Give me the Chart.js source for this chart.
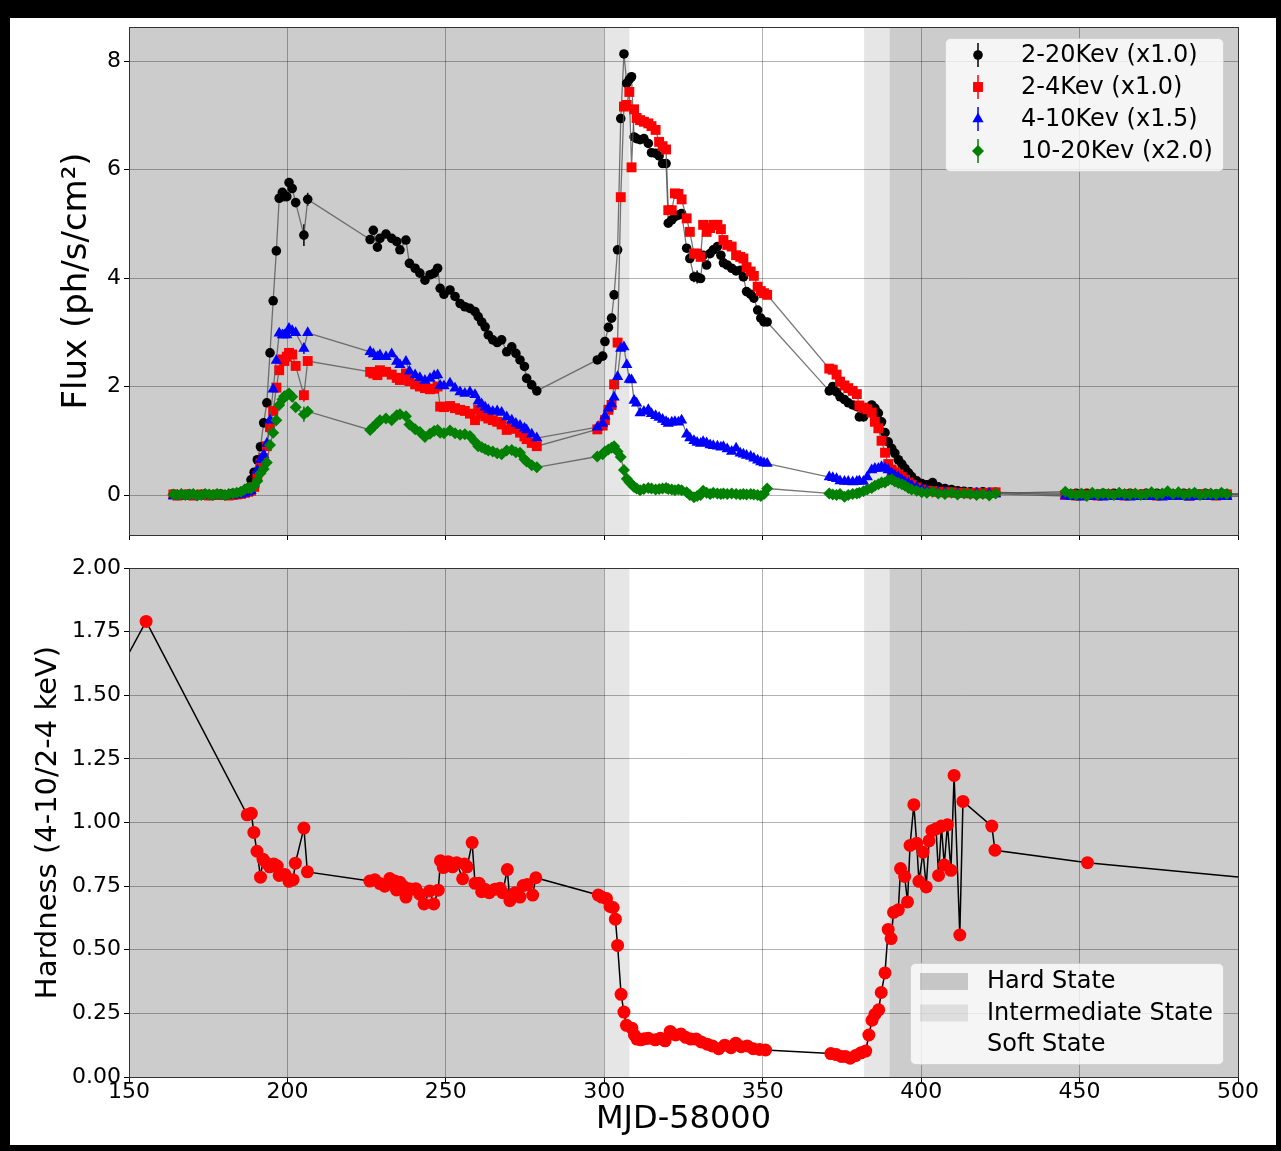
<!DOCTYPE html>
<html>
<head>
<meta charset="utf-8">
<title>Flux and hardness light curves</title>
<script src="https://cdn.jsdelivr.net/npm/chart.js@4.4.1/dist/chart.umd.min.js"></script>
<style>
  html, body { margin: 0; padding: 0; background: #fff; }
  body { width: 1281px; height: 1151px; position: relative; overflow: hidden; }
  canvas { position: absolute; left: 0; }
  #fluxChart { top: 0; }
  #hardChart { top: 540px; }
  .edge { position: absolute; background: #000; z-index: 5; }
</style>
</head>
<body>
<canvas id="fluxChart" width="1281" height="560"></canvas>
<canvas id="hardChart" width="1281" height="611"></canvas>
<div class="edge" style="left:0;top:0;width:1281px;height:18px"></div>
<div class="edge" style="left:0;top:0;width:10px;height:1151px"></div>
<div class="edge" style="left:1276px;top:0;width:5px;height:1151px"></div>
<div class="edge" style="left:0;top:1145px;width:1281px;height:6px"></div>
<script>
'use strict';

// observation times (MJD-58000), shared by the four energy bands
let mjd = [
  164.0, 165.3, 166.5, 167.8, 169.0, 170.3, 171.5, 172.8, 174.0, 175.3, 176.5, 177.8, 179.0, 180.3, 181.5, 182.8, 184.0, 185.3, 186.5, 187.6,
  188.5, 189.5, 190.5, 191.5, 192.5, 193.5, 194.5, 195.5, 196.5, 197.4, 198.4, 199.0, 199.8, 200.5, 201.5, 202.6, 205.2, 206.4,
  226.1, 227.1, 228.4, 229.2, 231.1, 232.9, 234.5, 235.5, 237.4, 238.5, 240.3, 241.8, 243.4, 245.0, 246.3, 247.4, 248.2, 249.4, 251.3, 252.9,
  254.5, 256.0, 257.6, 259.2, 260.2, 261.3, 262.4, 263.4, 264.8, 266.2, 267.6, 269.2, 270.8, 272.1, 273.4, 274.8, 275.5, 277.1, 278.7,
  297.8, 299.5, 300.2, 301.3, 302.3, 303.1, 304.2, 305.2, 306.2, 307.1, 307.9, 308.6, 309.4, 310.2, 311.3, 312.5, 313.9, 314.9, 316.2, 317.3,
  318.4, 319.5, 320.2, 321.3, 322.3, 323.4, 324.4, 326.0, 327.0, 328.3, 329.3, 330.4, 331.2, 332.3, 333.4, 334.4, 335.7, 336.8, 337.6, 338.8,
  340.2, 341.6, 342.9, 343.9, 344.9, 346.2, 347.2, 348.4, 349.4, 350.4, 351.4,
  371.0, 372.1, 373.3, 374.4, 375.8, 377.0, 378.4, 379.7, 380.5, 381.8, 383.0, 384.4, 385.4, 386.5, 387.5, 388.6, 389.6, 390.7, 391.7, 392.8,
  393.9, 394.9, 396.0, 397.0, 398.6, 400.2, 401.8, 403.6, 405.4, 407.5, 409.6, 411.5, 413.5, 415.5, 417.5, 419.5, 421.5, 423.5,
  445.5, 447.2, 448.9, 450.6, 452.3, 454.0, 455.7, 457.4, 459.1, 460.8, 462.5, 464.2, 465.9, 467.6, 469.3, 471.0, 472.7, 474.4, 476.1, 477.8,
  479.5, 481.2, 482.9, 484.6, 486.3, 488.0, 489.7, 491.4, 493.1, 494.8, 496.5, 506.0
];

let flux2to20 = [
  0.02, 0.00, 0.01, 0.00, 0.02, 0.01, -0.01, 0.00, 0.02, 0.01, 0.00, 0.01, 0.02, 0.00, 0.01, 0.03, 0.02, 0.05, 0.08, 0.13,
  0.28, 0.42, 0.65, 0.89, 1.33, 1.70, 2.62, 3.58, 4.50, 5.47, 5.58, 5.50, 5.50, 5.76, 5.65, 5.39, 4.79, 5.45,
  4.71, 4.88, 4.57, 4.73, 4.81, 4.73, 4.67, 4.52, 4.70, 4.27, 4.18, 4.09, 3.96, 4.06, 4.09, 4.18, 3.81, 3.70, 3.78, 3.66,
  3.53, 3.47, 3.44, 3.38, 3.29, 3.19, 3.10, 2.95, 2.86, 2.81, 2.86, 2.64, 2.73, 2.61, 2.49, 2.37, 2.15, 2.03, 1.92,
  2.49, 2.56, 2.83, 3.09, 3.26, 3.69, 4.52, 6.94, 8.13, 7.59, 7.66, 7.71, 6.60, 6.57, 6.55, 6.57, 6.48, 6.31, 6.30, 6.25,
  6.11, 6.11, 5.01, 5.07, 5.13, 5.16, 5.19, 4.55, 4.36, 4.02, 4.02, 3.99, 4.42, 4.24, 4.45, 4.52, 4.58, 4.42, 4.28, 4.24,
  4.18, 4.13, 4.14, 4.02, 3.75, 3.70, 3.63, 3.41, 3.26, 3.19, 3.19,
  1.92, 2.00, 1.90, 1.81, 1.76, 1.70, 1.66, 1.63, 1.44, 1.44, 1.60, 1.66, 1.60, 1.51, 1.35, 1.15, 0.98, 0.86, 0.77, 0.65,
  0.57, 0.49, 0.41, 0.34, 0.26, 0.21, 0.19, 0.23, 0.15, 0.12, 0.10, 0.08, 0.07, 0.06, 0.05, 0.06, 0.05, 0.05,
  0.03, 0.02, 0.03, 0.02, 0.03, 0.02, 0.02, 0.03, 0.02, 0.03, 0.02, 0.02, 0.03, 0.02, 0.02, 0.03, 0.02, 0.03, 0.02, 0.03,
  0.02, 0.02, 0.03, 0.02, 0.03, 0.02, 0.03, 0.02, 0.02, 0.03, 0.02, 0.02
];

let flux2to4 = [
  0.01, -0.01, 0.00, 0.01, 0.00, -0.01, 0.00, 0.01, 0.00, -0.01, 0.00, 0.01, 0.00, 0.00, -0.01, 0.00, 0.01, 0.02, 0.04, 0.06,
  0.08, 0.15, 0.35, 0.58, 0.68, 0.90, 1.25, 1.55, 1.98, 2.30, 2.50, 2.47, 2.55, 2.62, 2.59, 2.38, 1.84, 2.47,
  2.27, 2.24, 2.21, 2.30, 2.27, 2.22, 2.16, 2.12, 2.24, 2.10, 2.04, 2.00, 1.97, 1.95, 1.96, 2.00, 1.63, 1.62, 1.64, 1.60,
  1.57, 1.55, 1.50, 1.38, 1.57, 1.50, 1.45, 1.41, 1.38, 1.35, 1.30, 1.20, 1.27, 1.22, 1.15, 1.08, 1.03, 0.96, 0.90,
  1.21, 1.28, 1.38, 1.57, 1.66, 2.04, 2.81, 5.49, 7.16, 7.19, 7.43, 6.04, 7.11, 6.95, 6.91, 6.88, 6.85, 6.80, 6.73, 6.51,
  6.43, 6.37, 5.25, 5.25, 5.56, 5.55, 5.45, 5.10, 4.85, 4.45, 4.45, 4.39, 4.98, 4.85, 4.92, 4.98, 4.98, 4.90, 4.70, 4.61,
  4.58, 4.42, 4.39, 4.36, 4.20, 4.12, 4.04, 3.84, 3.76, 3.72, 3.69,
  2.33, 2.31, 2.22, 2.09, 2.02, 1.97, 1.92, 1.86, 1.65, 1.61, 1.58, 1.52, 1.35, 1.23, 1.00, 0.78, 0.57, 0.47, 0.42, 0.38,
  0.33, 0.28, 0.23, 0.19, 0.14, 0.10, 0.08, 0.07, 0.06, 0.05, 0.05, 0.04, 0.04, 0.03, 0.04, 0.03, 0.04, 0.05,
  0.00, 0.01, -0.01, 0.00, 0.01, 0.00, -0.01, 0.00, 0.01, 0.00, 0.00, -0.01, 0.01, 0.00, 0.00, 0.01, 0.00, -0.01, 0.00, 0.01,
  0.00, 0.00, 0.01, -0.01, 0.00, 0.00, 0.01, 0.00, -0.01, 0.00, 0.01, 0.00
];

// 4-10 keV, already multiplied by 1.5
let flux4to10 = [
  -0.02, -0.01, 0.00, -0.02, -0.01, 0.00, -0.02, -0.01, 0.00, -0.01, -0.02, 0.00, -0.01, -0.02, 0.00, -0.01, 0.00, 0.01, 0.03, 0.05,
  0.08, 0.20, 0.45, 0.65, 0.74, 0.95, 1.38, 1.95, 2.48, 2.98, 2.95, 2.95, 2.95, 3.07, 3.03, 2.99, 2.70, 2.99,
  2.64, 2.60, 2.55, 2.58, 2.55, 2.60, 2.46, 2.40, 2.46, 2.28, 2.21, 2.16, 2.11, 2.15, 2.20, 2.21, 2.02, 2.01, 2.06, 1.97,
  1.90, 1.87, 1.90, 1.85, 1.73, 1.68, 1.62, 1.57, 1.54, 1.55, 1.52, 1.44, 1.38, 1.32, 1.28, 1.23, 1.20, 1.12, 1.05,
  1.25, 1.32, 1.45, 1.60, 1.68, 1.80, 2.18, 2.70, 2.73, 2.40, 2.13, 2.12, 1.74, 1.69, 1.51, 1.54, 1.57, 1.50, 1.46, 1.43,
  1.39, 1.35, 1.32, 1.34, 1.35, 1.34, 1.38, 1.12, 1.05, 1.00, 0.97, 0.95, 0.98, 0.96, 0.92, 0.91, 0.90, 0.88, 0.89, 0.85,
  0.80, 0.86, 0.77, 0.75, 0.73, 0.71, 0.68, 0.64, 0.61, 0.59, 0.58,
  0.33, 0.32, 0.30, 0.26, 0.25, 0.25, 0.24, 0.25, 0.26, 0.25, 0.33, 0.46, 0.49, 0.49, 0.52, 0.50, 0.46, 0.40, 0.36, 0.33,
  0.28, 0.24, 0.21, 0.18, 0.14, 0.10, 0.08, 0.06, 0.05, 0.04, 0.04, 0.03, 0.03, 0.02, 0.03, 0.02, 0.03, 0.02,
  -0.02, -0.03, -0.02, -0.04, -0.03, -0.02, -0.03, -0.04, -0.02, -0.03, -0.02, -0.03, -0.04, -0.03, -0.02, -0.03, -0.02, -0.03, -0.04, -0.02,
  -0.03, -0.02, -0.03, -0.04, -0.03, -0.02, -0.03, -0.02, -0.03, -0.02, -0.03, -0.02
];

// 10-20 keV, already multiplied by 2.0
let flux10to20 = [
  0.01, 0.00, 0.02, 0.00, 0.01, 0.02, -0.01, 0.00, 0.02, 0.01, 0.00, 0.02, 0.01, 0.00, 0.02, 0.03, 0.04, 0.06, 0.10, 0.13,
  0.12, 0.17, 0.26, 0.40, 0.48, 0.60, 0.92, 1.15, 1.38, 1.66, 1.76, 1.82, 1.84, 1.87, 1.81, 1.62, 1.49, 1.54,
  1.20, 1.26, 1.33, 1.38, 1.41, 1.38, 1.47, 1.49, 1.45, 1.30, 1.21, 1.16, 1.07, 1.13, 1.18, 1.20, 1.15, 1.14, 1.19, 1.14,
  1.11, 1.12, 1.09, 0.98, 0.90, 0.88, 0.85, 0.82, 0.80, 0.77, 0.75, 0.82, 0.83, 0.79, 0.78, 0.66, 0.62, 0.55, 0.51,
  0.71, 0.75, 0.80, 0.84, 0.87, 0.90, 0.80, 0.70, 0.46, 0.30, 0.24, 0.20, 0.15, 0.12, 0.09, 0.11, 0.13, 0.12, 0.10, 0.11,
  0.12, 0.13, 0.11, 0.10, 0.09, 0.10, 0.09, 0.05, 0.00, -0.04, -0.02, 0.00, 0.08, 0.04, 0.02, 0.04, 0.03, 0.02, 0.03, 0.02,
  0.03, 0.02, 0.01, 0.02, 0.01, 0.02, 0.01, 0.00, -0.02, 0.02, 0.12,
  0.03, 0.01, 0.00, 0.02, -0.03, 0.00, 0.02, 0.03, 0.04, 0.07, 0.10, 0.13, 0.17, 0.20, 0.23, 0.23, 0.27, 0.29, 0.25, 0.22,
  0.20, 0.17, 0.13, 0.10, 0.08, 0.05, 0.04, 0.06, 0.03, 0.02, 0.04, 0.01, 0.03, 0.02, 0.00, 0.02, -0.01, 0.03,
  0.06, 0.02, 0.00, 0.03, -0.02, 0.04, 0.01, 0.03, 0.02, 0.00, 0.04, 0.02, 0.01, 0.03, 0.00, 0.02, 0.05, 0.01, 0.03, 0.07,
  0.02, 0.05, 0.01, 0.03, 0.04, 0.00, 0.02, 0.03, 0.01, 0.04, 0.02, 0.02
];

// the few error bars that stick out past their markers: [mjd, half-length]
let err2to20 = [[205.2, 0.20], [206.4, 0.12], [328.3, 0.10], [329.3, 0.12]];
let err2to4 = [[205.2, 0.12], [329.3, 0.08]];
let err4to10 = [[205.2, 0.10]];
let err10to20 = [[205.2, 0.14], [206.4, 0.08]];

// hardness ratio (4-10 keV / 2-4 keV)
let hardMjd = [
  148.0, 155.4,
  187.3, 188.6, 189.4, 190.4, 191.5, 192.3, 193.4, 194.4, 195.7, 196.8, 197.4, 199.2, 200.5, 201.8, 202.5, 205.2, 206.3,
  226.0, 227.6, 229.2, 230.7, 232.3, 233.9, 234.4, 235.5, 236.5, 237.4, 238.3, 239.2, 240.5, 241.8, 243.1, 244.9, 246.2, 247.6,
  248.3, 249.2, 250.7, 252.1, 253.4, 255.3, 255.9, 256.7, 258.3, 259.2, 260.5, 261.3, 262.3, 263.7, 265.5, 267.1, 267.9, 269.4,
  270.2, 271.8, 273.4, 274.4, 275.7, 277.4, 278.4,
  298.1, 299.2, 300.7, 301.8, 302.8, 303.5, 304.2, 305.3, 306.2, 307.0, 308.7, 309.5, 310.3, 311.5, 312.7, 313.9, 316.1, 317.7,
  319.2, 320.8, 322.5, 324.2, 325.7, 327.3, 329.0, 330.6, 332.5, 334.1, 336.1, 338.0, 340.0, 341.5, 343.2, 345.1, 347.0, 349.0, 350.9,
  371.5, 373.2, 374.8, 376.1, 377.6, 379.3, 381.0, 382.5, 383.5, 384.5, 385.4, 386.6, 387.4, 388.6, 389.6, 390.5, 391.3, 392.8,
  393.5, 394.8, 395.7, 396.5, 397.7, 398.6, 399.3, 400.6, 401.6, 402.5, 403.4, 404.7, 405.5, 406.4, 407.3, 408.3, 409.4, 410.4,
  412.2, 413.2, 422.3, 423.3, 452.5, 530.0
];
let hardness = [
  1.62, 1.79,
  1.03, 1.036, 0.961, 0.887, 0.785, 0.856, 0.84, 0.826, 0.837, 0.829, 0.792, 0.796, 0.769, 0.775, 0.84, 0.978, 0.806,
  0.77, 0.775, 0.76, 0.75, 0.78, 0.77, 0.735, 0.765, 0.75, 0.707, 0.74, 0.738, 0.74, 0.718, 0.68, 0.731, 0.68, 0.734,
  0.85, 0.823, 0.846, 0.826, 0.842, 0.779, 0.837, 0.826, 0.921, 0.761, 0.761, 0.728, 0.738, 0.724, 0.738, 0.742, 0.724, 0.815,
  0.693, 0.724, 0.707, 0.752, 0.756, 0.715, 0.783,
  0.715, 0.707, 0.701, 0.67, 0.666, 0.62, 0.517, 0.325, 0.255, 0.203, 0.192, 0.165, 0.149, 0.146, 0.15, 0.152, 0.146, 0.152,
  0.142, 0.179, 0.165, 0.169, 0.156, 0.149, 0.149, 0.138, 0.129, 0.122, 0.111, 0.125, 0.115, 0.133, 0.119, 0.122, 0.111, 0.108, 0.106,
  0.092, 0.088, 0.081, 0.081, 0.074, 0.084, 0.095, 0.102, 0.165, 0.223, 0.246, 0.264, 0.332, 0.409, 0.58, 0.544, 0.647, 0.657,
  0.819, 0.788, 0.688, 0.91, 1.07, 0.918, 0.769, 0.883, 0.747, 0.928, 0.968, 0.975, 0.792, 0.986, 0.833, 0.991, 0.812, 1.185,
  0.558, 1.083, 0.986, 0.891, 0.842, 0.75
];

let fluxTicks = [0, 2, 4, 6, 8];

// spectral states along the time axis
let stateStart = [140, 300, 308, 382, 390];
let stateEnd = [300, 308, 382, 390, 520];
let stateKind = ['hard', 'inter', 'soft', 'inter', 'hard'];
let stateFill = { hard: '#cccccc', inter: '#e6e6e6', soft: '#ffffff' };

Chart.defaults.font.family = '"DejaVu Sans", sans-serif';
Chart.defaults.color = '#000';

let gridColor = 'rgba(0,0,0,0.3)';
let lineGray = 'rgba(85,85,85,0.8)';

let stateBands = {
  id: 'stateBands',
  beforeDraw(chart) {
    let { ctx, chartArea: a } = chart;
    let x = chart.scales.x;
    ctx.save();
    ctx.beginPath();
    ctx.rect(a.left, a.top, a.width, a.height);
    ctx.clip();
    for (let i = 0; i < stateStart.length; i++) {
      let x0 = x.getPixelForValue(stateStart[i]);
      let x1 = x.getPixelForValue(stateEnd[i]);
      ctx.fillStyle = stateFill[stateKind[i]];
      ctx.fillRect(x0, a.top, x1 - x0, a.height);
    }
    ctx.restore();
  },
  afterDraw(chart) {
    let { ctx, chartArea: a } = chart;
    ctx.save();
    ctx.strokeStyle = '#333';
    ctx.lineWidth = 1;
    ctx.strokeRect(Math.round(a.left) + 0.5, Math.round(a.top) + 0.5, Math.round(a.width), Math.round(a.height));
    ctx.restore();
  }
};

let errorBars = {
  id: 'errorBars',
  beforeDatasetsDraw(chart) {
    let { ctx } = chart;
    let { x, y } = chart.scales;
    ctx.save();
    ctx.lineWidth = 1.5;
    chart.data.datasets.forEach(ds => {
      if (!ds.errBars) return;
      ctx.strokeStyle = ds.pointBackgroundColor;
      ds.errBars.forEach(([t, e]) => {
        let p = ds.data.find(d => d.x === t);
        if (!p) return;
        let px = x.getPixelForValue(t);
        ctx.beginPath();
        ctx.moveTo(px, y.getPixelForValue(p.y - e));
        ctx.lineTo(px, y.getPixelForValue(p.y + e));
        ctx.stroke();
      });
    });
    ctx.restore();
  }
};

function markerPath(ctx, style, r, x, y) {
  ctx.beginPath();
  if (style === 'circle') {
    ctx.arc(x, y, r, 0, Math.PI * 2);
  } else if (style === 'rect') {
    let s = r * Math.SQRT1_2;
    ctx.rect(x - s, y - s, 2 * s, 2 * s);
  } else if (style === 'triangle') {
    ctx.moveTo(x, y - r);
    ctx.lineTo(x + r * 0.866, y + r / 2);
    ctx.lineTo(x - r * 0.866, y + r / 2);
    ctx.closePath();
  } else {
    ctx.moveTo(x - r, y);
    ctx.lineTo(x, y - r);
    ctx.lineTo(x + r, y);
    ctx.lineTo(x, y + r);
    ctx.closePath();
  }
}

function legendFrame(ctx, x, y, w, h) {
  ctx.beginPath();
  ctx.roundRect(x, y, w, h, 5);
  ctx.fillStyle = 'rgba(255,255,255,0.8)';
  ctx.fill();
  ctx.strokeStyle = 'rgba(204,204,204,0.8)';
  ctx.lineWidth = 1;
  ctx.stroke();
}

let fluxLegend = {
  id: 'fluxLegend',
  afterDraw(chart) {
    let ctx = chart.ctx;
    ctx.save();
    legendFrame(ctx, 945.5, 38.5, 278, 133);
    ctx.font = '24px "DejaVu Sans"';
    ctx.textBaseline = 'middle';
    chart.data.datasets.forEach((ds, i) => {
      let y = 55 + i * 32;
      ctx.strokeStyle = ds.pointBackgroundColor;
      ctx.lineWidth = 1.5;
      ctx.beginPath();
      ctx.moveTo(978, y - 12);
      ctx.lineTo(978, y + 12);
      ctx.stroke();
      ctx.fillStyle = ds.pointBackgroundColor;
      markerPath(ctx, ds.pointStyle, ds.pointRadius, 978, y);
      ctx.fill();
      ctx.fillStyle = '#000';
      ctx.fillText(ds.label, 1021, y + 1);
    });
    ctx.restore();
  }
};

let stateLegend = {
  id: 'stateLegend',
  afterDraw(chart) {
    let ctx = chart.ctx;
    let names = ['Hard State', 'Intermediate State', 'Soft State'];
    let patch = ['rgba(128,128,128,0.4)', 'rgba(128,128,128,0.2)', 'rgba(255,255,255,0)'];
    ctx.save();
    legendFrame(ctx, 910.5, 423.5, 313, 101);
    ctx.font = '24px "DejaVu Sans"';
    ctx.textBaseline = 'middle';
    names.forEach((n, i) => {
      let y = 441 + i * 31.5;
      ctx.fillStyle = patch[i];
      ctx.fillRect(920, y - 8, 48, 17);
      ctx.fillStyle = '#000';
      ctx.fillText(n, 987, y + 1);
    });
    ctx.restore();
  }
};

function band(label, values, color, style, radius, errs) {
  return {
    label: label,
    data: mjd.map((t, i) => ({ x: t, y: values[i] })),
    showLine: true,
    borderColor: lineGray,
    borderWidth: 1.3,
    pointStyle: style,
    pointRadius: radius,
    pointBackgroundColor: color,
    pointBorderColor: color,
    pointBorderWidth: 0,
    errBars: errs
  };
}

let fluxSets = [
  band('2-20Kev (x1.0)', flux2to20, '#000000', 'circle', 4.8, err2to20),
  band('2-4Kev (x1.0)', flux2to4, '#ff0000', 'rect', 7, err2to4),
  band('4-10Kev (x1.5)', flux4to10, '#0000ff', 'triangle', 6.5, err4to10),
  band('10-20Kev (x2.0)', flux10to20, '#008000', 'rectRot', 6, err10to20)
];
// later bands sit on top of earlier ones
fluxSets.forEach((ds, i) => { ds.order = fluxSets.length - i; });

new Chart(document.getElementById('fluxChart'), {
  type: 'scatter',
  data: { datasets: fluxSets },
  options: {
    responsive: false,
    animation: false,
    events: [],
    layout: { padding: { left: 0, top: 27, right: 43, bottom: 0 } },
    plugins: { legend: { display: false }, tooltip: { enabled: false } },
    scales: {
      x: {
        type: 'linear', min: 150, max: 500,
        ticks: { display: false, stepSize: 50 },
        grid: { color: gridColor, tickColor: '#000', tickLength: 5 },
        border: { display: false },
        afterFit(s) { s.height = 25; }
      },
      y: {
        min: -0.737, max: 8.627,
        afterBuildTicks(s) { s.ticks = fluxTicks.map(v => ({ value: v })); },
        ticks: { font: { size: 22 }, padding: 3 },
        grid: { color: gridColor, tickColor: '#000', tickLength: 5 },
        border: { display: false },
        title: { display: true, text: 'Flux (ph/s/cm²)', font: { size: 34 }, padding: { top: 57, bottom: 0 } },
        afterFit(s) { s.width = 129; }
      }
    }
  },
  plugins: [stateBands, errorBars, fluxLegend]
});

new Chart(document.getElementById('hardChart'), {
  type: 'scatter',
  data: {
    datasets: [{
      label: 'Hardness',
      data: hardMjd.map((t, i) => ({ x: t, y: hardness[i] })),
      showLine: true,
      borderColor: '#000',
      borderWidth: 1.5,
      pointStyle: 'circle',
      pointRadius: 6.5,
      pointBackgroundColor: '#ff0000',
      pointBorderWidth: 0
    }]
  },
  options: {
    responsive: false,
    animation: false,
    events: [],
    layout: { padding: { left: 0, top: 28, right: 43, bottom: 0 } },
    plugins: { legend: { display: false }, tooltip: { enabled: false } },
    scales: {
      x: {
        type: 'linear', min: 150, max: 500,
        ticks: { stepSize: 50, font: { size: 22, lineHeight: 0.9 }, padding: 0, maxRotation: 0 },
        grid: { color: gridColor, tickColor: '#000', tickLength: 5 },
        border: { display: false },
        title: { display: true, text: 'MJD-58000', font: { size: 32 }, padding: { top: 0, bottom: 12 } },
        afterFit(s) { s.height = 74; }
      },
      y: {
        min: 0, max: 2,
        ticks: { stepSize: 0.25, font: { size: 22 }, padding: 3, callback: v => v.toFixed(2) },
        grid: { color: gridColor, tickColor: '#000', tickLength: 5 },
        border: { display: false },
        title: { display: true, text: 'Hardness (4-10/2-4 keV)', font: { size: 29 }, padding: { top: 31, bottom: 0 } },
        afterFit(s) { s.width = 129; }
      }
    }
  },
  plugins: [stateBands, stateLegend]
});
</script>
</body>
</html>
